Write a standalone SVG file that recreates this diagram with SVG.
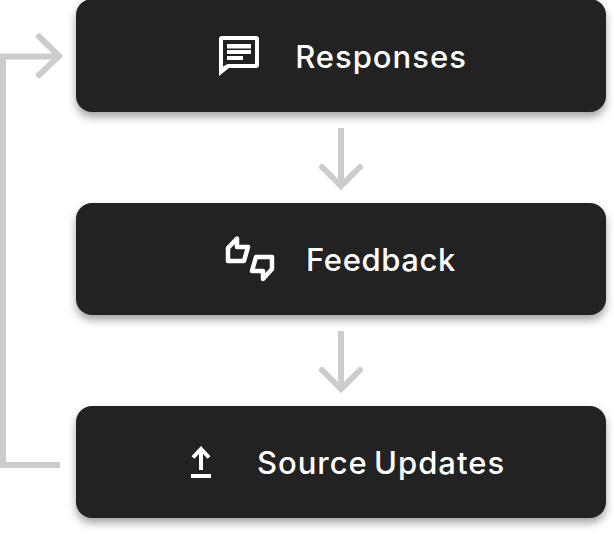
<svg xmlns="http://www.w3.org/2000/svg" width="614" height="534" viewBox="0 0 614 534">
<defs>
<filter id="sh" x="-5%" y="-20%" width="110%" height="150%"><feDropShadow dx="0" dy="5" stdDeviation="4" flood-color="#000" flood-opacity="0.36"/></filter>
</defs>
<style>
.box{fill:#222222;filter:url(#sh)}
.t{font-family:"Inter","Liberation Sans",sans-serif;font-size:31px;font-weight:550;letter-spacing:0.6px;word-spacing:-3px;fill:#fff;text-anchor:middle}
.w{letter-spacing:1px}
.c{fill:none;stroke:#cccccc;stroke-width:6}
.h{fill:none;stroke:#cccccc;stroke-width:6;stroke-linecap:round;stroke-linejoin:miter}
.i{fill:none;stroke:#fff;stroke-width:4.500;stroke-linejoin:round}
</style>
<rect width="614" height="534" fill="#fff"/>
<g id="connectors">
<path class="c" d="M60 465H3V56.500H58"/>
<path class="h" d="M39 36.500L59 56L39 75"/>
<path class="c" d="M341 128V185"/>
<path class="h" d="M322 167L341 186L360 167"/>
<path class="c" d="M341 331V388"/>
<path class="h" d="M322 370L341 389L360 370"/>
</g>
<g id="responses">
<rect class="box" x="76" y="-1" width="530" height="113" rx="16"/>
<path fill="#fff" fill-rule="evenodd" d="M222 36H256Q259 36 259 39V65Q259 68 256 68H229L219 76V39Q219 36 222 36ZM223 40V66.500L227.500 64H255V40Z"/>
<path fill="#fff" d="M227 44H251V48.500H227ZM227 50H251V54H227ZM227 56H243V60H227Z"/>
<text class="t w" x="381" y="68">Responses</text>
</g>
<g id="feedback">
<rect class="box" x="76" y="203" width="530" height="112" rx="16"/>
<path class="i" d="M237 238.500L228 248V261H244L248 247H237Z"/>
<path class="i" d="M263 279L272 269V257H256L252 271H263Z"/>
<text class="t" x="381" y="271">Feedback</text>
</g>
<g id="source-updates">
<rect class="box" x="76" y="406" width="530" height="112" rx="16"/>
<path fill="none" stroke="#fff" stroke-width="4" d="M201 470V451M193 457.500L201 449L209 457.500"/>
<rect x="191" y="474" width="20" height="4" fill="#fff"/>
<text class="t w" x="381" y="474">Source Updates</text>
</g>
</svg>
